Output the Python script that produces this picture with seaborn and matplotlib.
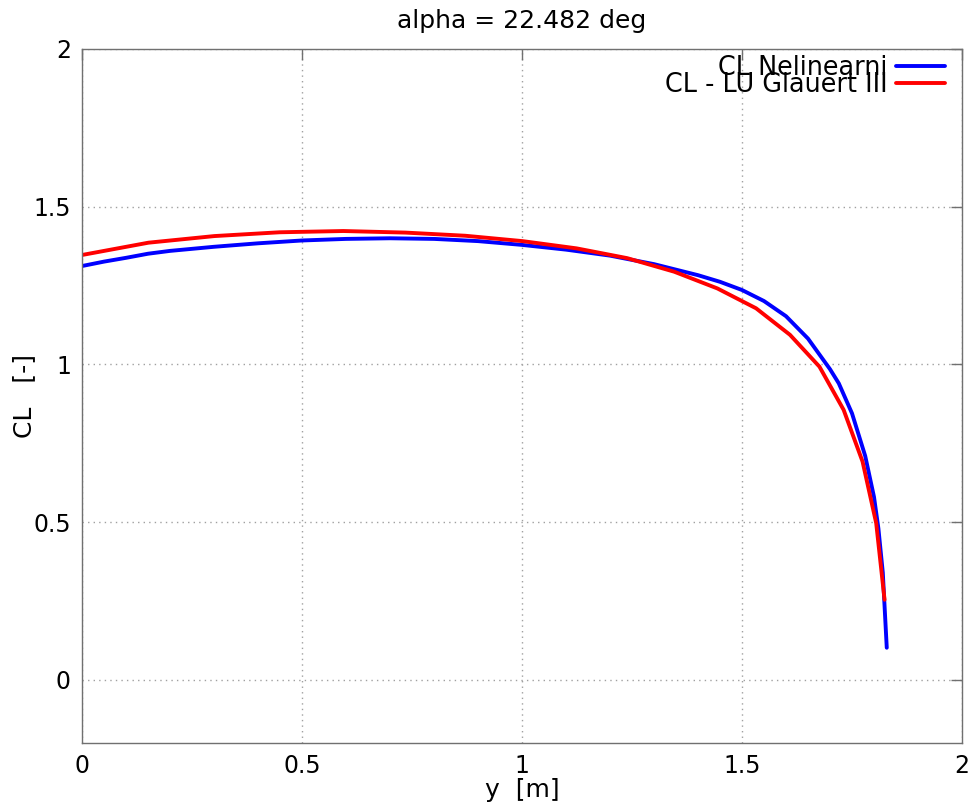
import matplotlib
matplotlib.use("Agg")
import matplotlib.pyplot as plt
import seaborn as sns
import pandas as pd

# Nonlinear solution (blue)
y_nl = [0.0, 0.05, 0.10, 0.15, 0.20, 0.30, 0.40, 0.50, 0.60, 0.70, 0.80, 0.90,
        1.00, 1.10, 1.20, 1.30, 1.40, 1.45, 1.50, 1.55, 1.60, 1.65, 1.70, 1.72,
        1.75, 1.78, 1.80, 1.81, 1.82, 1.829]
cl_nl = [1.312, 1.326, 1.338, 1.351, 1.360, 1.373, 1.384, 1.393, 1.398, 1.400,
         1.398, 1.391, 1.379, 1.364, 1.345, 1.318, 1.283, 1.262, 1.236, 1.201,
         1.153, 1.082, 0.985, 0.940, 0.845, 0.710, 0.580, 0.480, 0.340, 0.102]

# Lifting line, Glauert III (red)
y_gl = [0.0, 0.151, 0.301, 0.449, 0.594, 0.735, 0.871, 1.001, 1.124, 1.239,
        1.346, 1.444, 1.532, 1.609, 1.676, 1.731, 1.774, 1.805, 1.824]
cl_gl = [1.347, 1.386, 1.407, 1.419, 1.423, 1.418, 1.408, 1.391, 1.368, 1.337,
         1.294, 1.241, 1.178, 1.094, 0.993, 0.856, 0.692, 0.497, 0.254]

labels = ["CL Nelinearni", "CL - LU Glauert III"]
title = "alpha = 22.482 deg"
xticks = [0, 0.5, 1, 1.5, 2]
yticks = [0, 0.5, 1, 1.5, 2]

sns.set_style("white")
plt.rcParams['font.family'] = ['DejaVu Sans']
plt.rcParams['text.color'] = 'black'
plt.rcParams['axes.labelcolor'] = 'black'
plt.rcParams['xtick.color'] = 'black'
plt.rcParams['ytick.color'] = 'black'

fig = plt.figure(figsize=(9.73, 8.05), dpi=100)
ax = fig.add_axes([82/973, 62/805, (962-82)/973, (743-49)/805])

df_nl = pd.DataFrame({"y": y_nl, "CL": cl_nl})
df_gl = pd.DataFrame({"y": y_gl, "CL": cl_gl})
sns.lineplot(data=df_nl, x="y", y="CL", color="#0000ff", lw=2.8, label=labels[0],
             ax=ax, sort=False, estimator=None)
sns.lineplot(data=df_gl, x="y", y="CL", color="#ff0000", lw=2.8, label=labels[1],
             ax=ax, sort=False, estimator=None)

ax.set_xlim(0, 2)
ax.set_ylim(-0.2, 2)
ax.set_xticks(xticks)
ax.set_xticklabels(["0", "0.5", "1", "1.5", "2"])
ax.set_yticks(yticks)
ax.set_yticklabels(["0", "0.5", "1", "1.5", "2"])
ax.grid(True, linestyle=(0, (1, 3)), color="#a0a0a0", lw=1)
ax.tick_params(direction="in", length=8, width=1, color="#707070",
               labelcolor="black", top=True, right=True, labelsize=17, pad=8)
for s in ax.spines.values():
    s.set_color("#707070")
    s.set_linewidth(1)

ax.set_xlabel("y  [m]", fontsize=18, labelpad=0, color="black")
ax.set_ylabel("CL   [-]", fontsize=18, color="black")
ax.yaxis.set_label_coords(-0.052, 0.5)
ax.set_title(title, fontsize=18, pad=15, color="black")

leg = ax.legend(loc="upper right", bbox_to_anchor=(0.9807, 0.992),
                markerfirst=False, frameon=False,
                fontsize=18.4, handlelength=1.9, labelspacing=-0.35,
                borderaxespad=0.0, handletextpad=0.35, borderpad=0.0)

fig.savefig("out.png", dpi=100)
